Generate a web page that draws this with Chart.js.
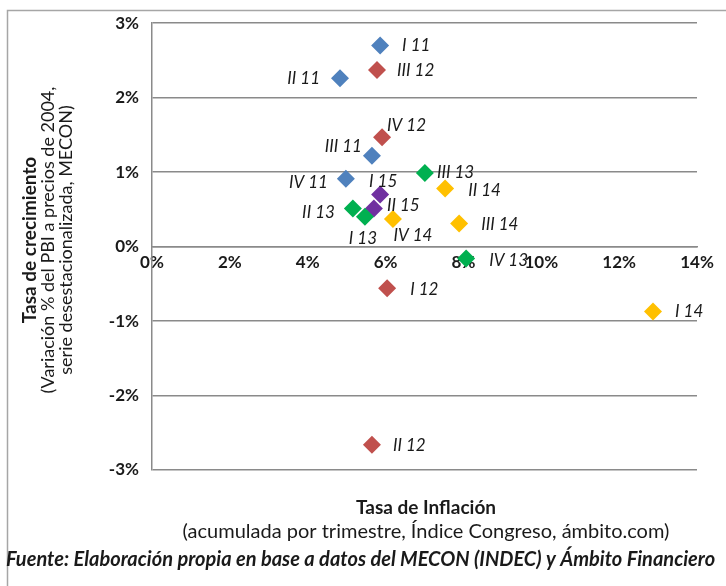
<!DOCTYPE html>
<html>
<head>
<meta charset="utf-8">
<script src="https://cdn.jsdelivr.net/npm/chart.js@4.4.1/dist/chart.umd.min.js"></script>
<style>
    html, body { margin: 0; padding: 0; background: #ffffff; }
    #wrap { width: 726px; height: 586px; }
</style>
</head>
<body>
<div id="wrap"><canvas id="scatter-chart" width="726" height="586"></canvas></div>
<script>
// Values (x = inflación %, y = crecimiento %)
const inflacion2011 = [5.86, 4.83, 5.65, 4.98];
const crecimiento2011 = [2.70, 2.26, 1.22, 0.91];
const etiquetas2011 = ['I 11', 'II 11', 'III 11', 'IV 11'];

const inflacion2012 = [6.04, 5.65, 5.78, 5.91];
const crecimiento2012 = [-0.56, -2.66, 2.37, 1.47];
const etiquetas2012 = ['I 12', 'II 12', 'III 12', 'IV 12'];

const inflacion2013 = [5.47, 5.16, 7.01, 8.07];
const crecimiento2013 = [0.40, 0.51, 0.99, -0.16];
const etiquetas2013 = ['I 13', 'II 13', 'III 13', 'IV 13'];

const inflacion2014 = [12.87, 7.53, 7.89, 6.19];
const crecimiento2014 = [-0.87, 0.78, 0.31, 0.37];
const etiquetas2014 = ['I 14', 'II 14', 'III 14', 'IV 14'];

const inflacion2015 = [5.86, 5.70];
const crecimiento2015 = [0.70, 0.51];
const etiquetas2015 = ['I 15', 'II 15'];

const xTicks = [0, 2, 4, 6, 8, 10, 12, 14];
const yTicks = [-3, -2, -1, 0, 1, 2, 3];

const FONT = 'Lato, "Open Sans", sans-serif';
const TEXT = '#1a1a1a';
const GRID = '#8a8a8a';

// where each point label sits relative to its marker: [align, dx, dy]
const labelPlacement = {
    'I 11': ['left', 22, 0], 'II 11': ['right', -20, 0], 'III 11': ['right', -10, -9], 'IV 11': ['right', -18, 4],
    'I 12': ['left', 23, 1], 'II 12': ['left', 21, 1], 'III 12': ['left', 20, 0], 'IV 12': ['left', 5, -12],
    'I 13': ['center', -2, 22], 'II 13': ['right', -18, 4], 'III 13': ['left', 12, 0], 'IV 13': ['left', 23, 2],
    'I 14': ['left', 22, 0], 'II 14': ['left', 23, 2], 'III 14': ['left', 22, 1], 'IV 14': ['center', 20, 16],
    'I 15': ['center', 3, -13], 'II 15': ['left', 13, -3]
};

function toPoints(xs, ys) {
    return xs.map((x, i) => ({ x: x, y: ys[i] }));
}

function makeDataset(name, xs, ys, labels, color) {
    return {
        label: name,
        data: toPoints(xs, ys),
        pointLabels: labels,
        pointStyle: 'rectRot',
        pointRadius: 9,
        pointHoverRadius: 9,
        backgroundColor: color,
        borderColor: color,
        borderWidth: 0
    };
}

// Point labels, axis titles, source note and outer frame
const annotationsPlugin = {
    id: 'annotations',
    beforeDraw(chart) {
        const ctx = chart.ctx;
        ctx.save();
        ctx.fillStyle = '#ffffff';
        ctx.fillRect(0, 0, chart.width, chart.height);
        ctx.strokeStyle = '#a6a6a6';
        ctx.lineWidth = 1.5;
        ctx.beginPath();
        ctx.moveTo(7.5, chart.height);
        ctx.lineTo(7.5, 10.5);
        ctx.lineTo(chart.width, 10.5);
        ctx.stroke();
        ctx.restore();
    },
    afterDatasetsDraw(chart) {
        const ctx = chart.ctx;
        ctx.save();
        ctx.fillStyle = TEXT;
        ctx.font = 'italic 17px ' + FONT;
        ctx.textBaseline = 'middle';
        chart.data.datasets.forEach((ds, i) => {
            const meta = chart.getDatasetMeta(i);
            meta.data.forEach((pt, j) => {
                const name = ds.pointLabels[j];
                const place = labelPlacement[name] || ['left', 14, 0];
                ctx.textAlign = place[0];
                ctx.fillText(name, pt.x + place[1], pt.y + place[2]);
            });
        });

        // y axis title (rotated)
        const cy = 240;
        ctx.save();
        ctx.translate(30, cy);
        ctx.rotate(-Math.PI / 2);
        ctx.textAlign = 'center';
        ctx.font = 'bold 19px ' + FONT;
        ctx.fillText('Tasa de crecimiento', 0, 0);
        ctx.font = '18px ' + FONT;
        ctx.fillText('(Variación % del PBI a precios de 2004,', 0, 18);
        ctx.fillText('serie desestacionalizada, MECON)', 0, 36);
        ctx.restore();

        // x axis title
        ctx.textAlign = 'center';
        ctx.font = 'bold 19px ' + FONT;
        ctx.fillText('Tasa de Inflación', 426, 508);
        ctx.font = '20px ' + FONT;
        ctx.fillText('(acumulada por trimestre, Índice Congreso, ámbito.com)', 426, 532);

        // source note
        ctx.textAlign = 'left';
        ctx.font = 'italic bold 20px ' + FONT;
        ctx.fillText('Fuente: Elaboración propia en base a datos del MECON (INDEC) y Ámbito Financiero', 6, 560, 714);
        ctx.restore();
    }
};

const chart = new Chart(document.getElementById('scatter-chart').getContext('2d'), {
    type: 'scatter',
    data: {
        datasets: [
            makeDataset('2011', inflacion2011, crecimiento2011, etiquetas2011, '#4f81bd'),
            makeDataset('2012', inflacion2012, crecimiento2012, etiquetas2012, '#c0504d'),
            makeDataset('2013', inflacion2013, crecimiento2013, etiquetas2013, '#00b050'),
            makeDataset('2014', inflacion2014, crecimiento2014, etiquetas2014, '#ffc000'),
            makeDataset('2015', inflacion2015, crecimiento2015, etiquetas2015, '#7030a0')
        ]
    },
    options: {
        responsive: false,
        animation: false,
        devicePixelRatio: 1,
        layout: { padding: { left: 92, top: 22, right: 29, bottom: 116 } },
        plugins: {
            legend: { display: false },
            tooltip: { enabled: false }
        },
        scales: {
            x: {
                type: 'linear',
                position: { y: 0 },
                min: xTicks[0],
                max: xTicks[xTicks.length - 1],
                afterBuildTicks: (scale) => { scale.ticks = xTicks.map(v => ({ value: v })); },
                grid: { display: false, drawTicks: false },
                border: { display: true, color: GRID, width: 1.5 },
                ticks: {
                    padding: 6,
                    color: TEXT,
                    font: { family: FONT, size: 17, weight: 'bold' },
                    maxRotation: 0,
                    callback: (v) => v + '%'
                }
            },
            y: {
                type: 'linear',
                position: 'left',
                min: yTicks[0],
                max: yTicks[yTicks.length - 1],
                afterBuildTicks: (scale) => { scale.ticks = yTicks.map(v => ({ value: v })); },
                afterFit: (scale) => { scale.width = 60; },
                grid: { color: GRID, lineWidth: 1.5, drawTicks: false },
                border: { display: true, color: GRID, width: 1.5 },
                ticks: {
                    padding: 13,
                    color: TEXT,
                    font: { family: FONT, size: 17, weight: 'bold' },
                    callback: (v) => v + '%'
                }
            }
        }
    },
    plugins: [annotationsPlugin]
});
</script>
</body>
</html>
